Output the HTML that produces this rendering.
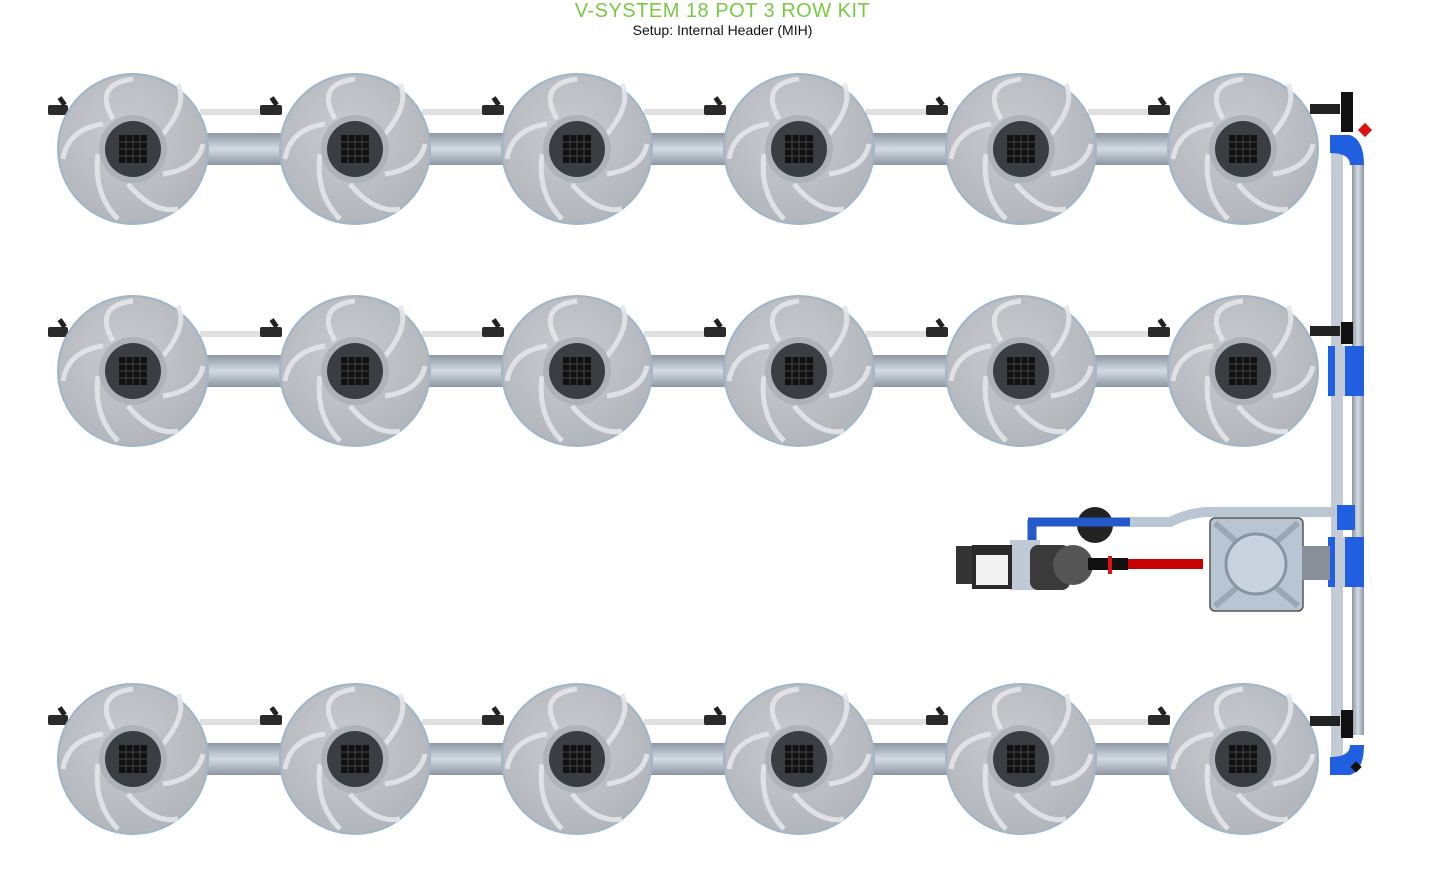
<!DOCTYPE html>
<html><head><meta charset="utf-8"><style>
body{margin:0;background:#fff;width:1445px;height:870px;overflow:hidden;font-family:"Liberation Sans",sans-serif}
.t{position:absolute;left:0;width:1445px;text-align:center}
</style></head><body>
<div class="t" style="top:0;font-size:20px;color:#7ac943;letter-spacing:0.5px">V-SYSTEM 18 POT 3 ROW KIT</div>
<div class="t" style="top:22px;font-size:14px;color:#111">Setup: Internal Header (MIH)</div>
<svg width="1445" height="870" style="position:absolute;left:0;top:0">
<defs>
<linearGradient id="tube" x1="0" y1="0" x2="0" y2="1">
<stop offset="0" stop-color="#8d97a2"/><stop offset="0.5" stop-color="#d4dbe3"/><stop offset="1" stop-color="#8d97a2"/></linearGradient>
<linearGradient id="vtube" x1="0" y1="0" x2="1" y2="0">
<stop offset="0" stop-color="#8d97a2"/><stop offset="0.5" stop-color="#d4dbe3"/><stop offset="1" stop-color="#8d97a2"/></linearGradient>
<radialGradient id="potg" cx="0.45" cy="0.4" r="0.6"><stop offset="0" stop-color="#c9cbcf"/><stop offset="1" stop-color="#b3b6bb"/></radialGradient>
<g id="pot">
<circle r="76" fill="#9fb5c8"/>
<circle r="74" fill="url(#potg)"/>
<g fill="none" stroke="#e4e6e9" stroke-width="5" opacity="0.9">
<path d="M-20,-30 Q-40,-65 0,-70"/><path d="M30,-15 Q55,-45 45,-65"/><path d="M30,25 Q65,20 70,-5"/><path d="M-5,35 Q20,65 45,60"/><path d="M-35,5 Q-40,45 -15,70"/><path d="M-30,-25 Q-65,-20 -70,10"/>
</g>
<circle r="34" fill="#aeb3b9"/>
<circle r="28" fill="#3a3d42"/>
<rect x="-14" y="-14" width="28" height="28" fill="#111"/>
<path d="M-14,-7H14M-14,0H14M-14,7H14M-7,-14V14M0,-14V14M7,-14V14" stroke="#444" stroke-width="1"/>
</g>
<g id="seg">
<rect x="0" y="-40" width="70" height="6" fill="#e0e0e0"/>
<rect x="0" y="-16" width="100" height="32" fill="url(#tube)"/>
<rect x="60" y="-44" width="22" height="10" rx="2" fill="#2a2a2a"/>
<rect x="72" y="-52" width="5" height="9" fill="#222" transform="rotate(-35 74 -47)"/>
</g>
<g id="row">
<rect x="48" y="-44" width="20" height="10" rx="2" fill="#2a2a2a"/>
<rect x="60" y="-52" width="5" height="9" fill="#222" transform="rotate(-35 62 -47)"/>
<use href="#seg" x="200"/><use href="#seg" x="422"/><use href="#seg" x="644"/><use href="#seg" x="866"/><use href="#seg" x="1088"/>
<use href="#pot" x="133"/><use href="#pot" x="355"/><use href="#pot" x="577"/><use href="#pot" x="799"/><use href="#pot" x="1021"/><use href="#pot" x="1243"/>
</g>
</defs>
<!-- header -->
<rect x="1331" y="135" width="12" height="635" fill="#c3ccd6"/>
<rect x="1352" y="165" width="12" height="570" fill="url(#vtube)"/>
<use href="#row" y="149"/>
<use href="#row" y="371"/>
<use href="#row" y="759"/>
<rect x="1310" y="104" width="30" height="10" fill="#222"/>
<rect x="1341" y="92" width="12" height="40" fill="#111"/>
<path d="M1330,135 h20 q14,5 14,30 h-14 q0,-12 -20,-12z" fill="#1f5fe0"/>
<rect x="1360" y="125" width="10" height="10" fill="#d11" transform="rotate(45 1365 130)"/>
<rect x="1310" y="326" width="30" height="10" fill="#222"/>
<rect x="1341" y="322" width="12" height="22" fill="#111"/>
<rect x="1328" y="346" width="36" height="50" fill="#1f5fe0"/>
<rect x="1335" y="346" width="10" height="50" fill="#c3ccd6"/>
<rect x="1310" y="716" width="30" height="10" fill="#222"/>
<rect x="1341" y="710" width="12" height="28" fill="#111"/>
<path d="M1330,775 h20 q14,-5 14,-30 h-14 q0,12 -20,12z" fill="#1f5fe0"/>
<rect x="1352" y="763" width="8" height="8" fill="#111" transform="rotate(45 1356 767)"/>
<rect x="1337" y="505" width="18" height="25" fill="#1f5fe0"/>
<rect x="1328" y="537" width="36" height="50" fill="#1f5fe0"/>
<rect x="1335" y="537" width="10" height="50" fill="#c3ccd6"/>
<!-- reservoir -->
<rect x="1210" y="518" width="93" height="93" rx="5" fill="#b8c5d3" stroke="#555" stroke-width="1.5"/>
<path d="M1215,523 L1240,545 M1298,523 L1273,545 M1215,606 L1240,585 M1298,606 L1273,585" stroke="#9aa8b6" stroke-width="6"/>
<circle cx="1256" cy="564" r="30" fill="#c8d3df" stroke="#8794a2" stroke-width="3"/>
<rect x="1302" y="546" width="28" height="34" fill="#8a9099"/>
<!-- return line -->
<path d="M1130,522 H1170 Q1190,512 1210,512 H1335" stroke="#b9c6d3" stroke-width="10" fill="none"/>
<circle cx="1095" cy="525" r="18" fill="#222"/>
<path d="M1028,522 H1130 M1032,520 V562 H1080" stroke="#2558c9" stroke-width="9" fill="none"/>
<!-- pump -->
<rect x="1010" y="540" width="30" height="50" fill="#c0cad5"/>
<rect x="1030" y="545" width="40" height="45" rx="8" fill="#3a3a3a"/>
<circle cx="1073" cy="565" r="20" fill="#555"/>
<rect x="956" y="546" width="18" height="38" fill="#333"/>
<rect x="972" y="545" width="40" height="44" fill="#2a2a2a"/>
<rect x="976" y="555" width="32" height="30" fill="#f3f3f3"/>
<rect x="1088" y="558" width="40" height="12" fill="#111"/>
<rect x="1128" y="559" width="75" height="10" fill="#c80000"/>
<rect x="1108" y="556" width="4" height="18" fill="#d11"/>
</svg>
</body></html>
